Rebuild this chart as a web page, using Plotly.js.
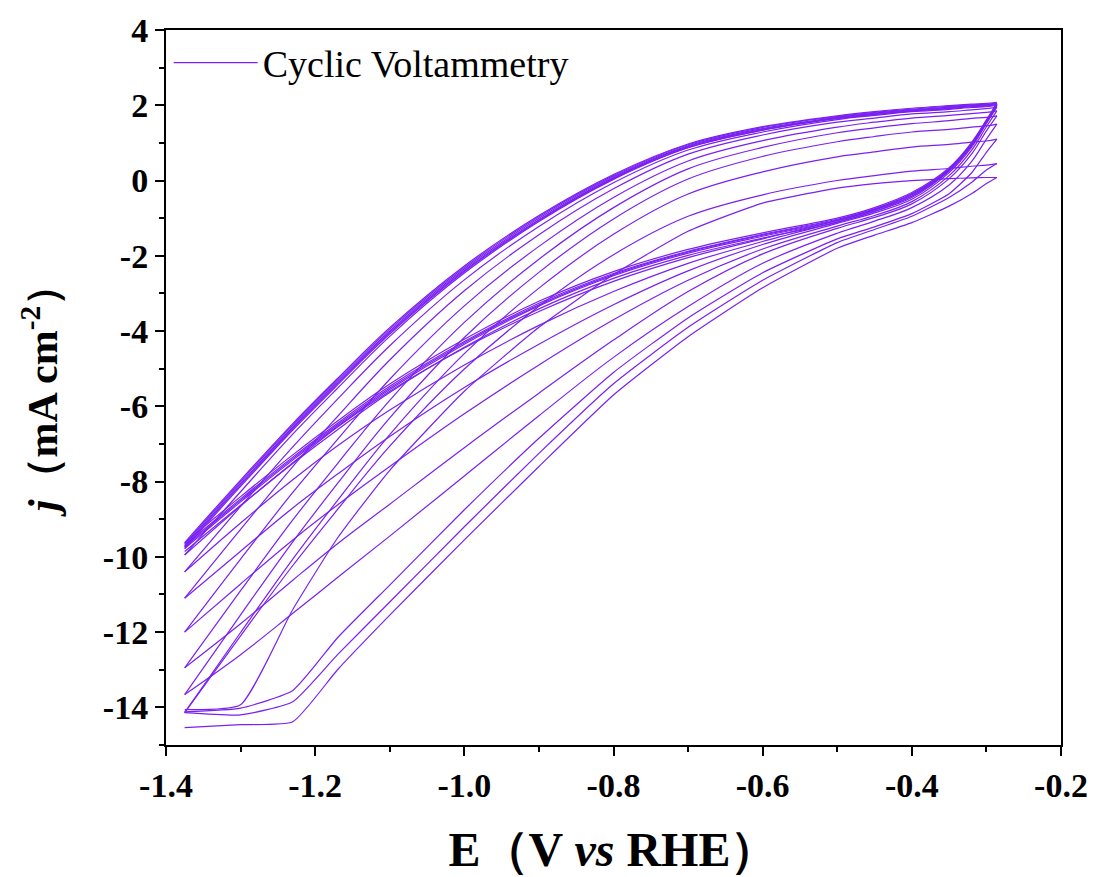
<!DOCTYPE html>
<html>
<head>
<meta charset="utf-8">
<script src="https://cdn.plot.ly/plotly-3.0.1.min.js"></script>
<style>html,body{margin:0;padding:0;background:#fff;}#chart{width:1096px;height:877px;}</style>
</head>
<body>
<div id="chart"></div>
<script>
// Potential grid (V vs RHE) shared by every branch
const E = [-0.286,-0.30,-0.32,-0.35,-0.40,-0.45,-0.50,-0.60,-0.70,-0.80,-0.90,-1.00,-1.10,-1.17,-1.23,-1.30,-1.375];

// Cathodic (negative-going) branches, current density j (mA cm^-2)
const LA = [0.08,-0.08,-0.35,-0.68,-1.12,-1.45,-1.80,-2.85,-4.15,-5.70,-7.60,-9.55,-11.55,-13.00,-14.38,-14.46,-14.54];
const LB = [0.45,0.28,-0.05,-0.45,-0.95,-1.30,-1.65,-2.65,-3.90,-5.40,-7.25,-9.20,-11.20,-12.60,-13.85,-14.20,-14.14];
const LC = [1.10,0.75,0.20,-0.35,-0.88,-1.23,-1.55,-2.45,-3.65,-5.10,-6.85,-8.75,-10.75,-12.15,-13.55,-14.02,-14.12];
const LD = [1.50,1.10,0.50,-0.12,-0.72,-1.08,-1.40,-2.20,-3.35,-4.70,-6.25,-7.85,-9.45,-10.55,-11.50,-12.60,-13.66];
const LE = [1.72,1.32,0.70,0.05,-0.62,-0.98,-1.27,-1.95,-2.95,-4.24,-5.65,-7.10,-8.60,-9.65,-10.62,-11.78,-12.95];
const LF = [1.85,1.43,0.80,0.13,-0.56,-0.93,-1.21,-1.82,-2.65,-3.70,-4.90,-6.20,-7.60,-8.62,-9.55,-10.72,-12.00];
const LG = [1.95,1.52,0.88,0.21,-0.50,-0.86,-1.14,-1.70,-2.40,-3.30,-4.35,-5.50,-6.80,-7.80,-8.70,-9.85,-11.10];
const LH = [2.00,1.56,0.94,0.26,-0.45,-0.82,-1.10,-1.62,-2.20,-2.95,-3.85,-4.90,-6.10,-7.05,-7.95,-9.10,-10.40];
const LI = [2.02,1.58,0.96,0.29,-0.41,-0.78,-1.06,-1.55,-2.05,-2.68,-3.48,-4.45,-5.60,-6.55,-7.50,-8.65,-9.95];
const LK1 = [2.00,1.55,0.95,0.28,-0.38,-0.78,-1.07,-1.48,-1.93,-2.53,-3.33,-4.35,-5.55,-6.53,-7.43,-8.54,-9.78];
const LK2 = [2.03,1.58,0.98,0.31,-0.35,-0.75,-1.03,-1.43,-1.88,-2.47,-3.26,-4.28,-5.47,-6.45,-7.35,-8.46,-9.70];
const LK3 = [2.06,1.61,1.01,0.34,-0.32,-0.72,-1.00,-1.39,-1.83,-2.42,-3.21,-4.22,-5.41,-6.39,-7.29,-8.40,-9.63];
const LK4 = [1.98,1.53,0.92,0.25,-0.42,-0.82,-1.11,-1.53,-1.99,-2.60,-3.41,-4.43,-5.63,-6.62,-7.52,-8.63,-9.86];
const LK5 = [2.04,1.59,0.97,0.30,-0.36,-0.76,-1.05,-1.45,-1.90,-2.50,-3.30,-4.31,-5.51,-6.49,-7.39,-8.50,-9.74];

// Anodic (positive-going) branches
const UA = [0.08,0.08,0.07,0.05,0.00,-0.08,-0.20,-0.60,-1.35,-2.50,-3.90,-5.60,-7.70,-9.50,-11.40,-13.93,-14.06];
const UB = [0.45,0.41,0.38,0.32,0.25,0.13,0.00,-0.38,-0.95,-1.97,-3.34,-5.01,-7.06,-8.74,-10.23,-12.10,-14.14];
const UC = [1.10,1.05,1.02,0.96,0.89,0.76,0.63,0.23,-0.36,-1.43,-2.86,-4.60,-6.75,-8.50,-10.06,-12.01,-14.14];
const UD = [1.50,1.45,1.42,1.36,1.29,1.17,1.03,0.64,0.04,-1.02,-2.44,-4.17,-6.31,-8.05,-9.60,-11.54,-13.66];
const UE = [1.72,1.68,1.65,1.59,1.51,1.40,1.27,0.88,0.31,-0.72,-2.09,-3.77,-5.84,-7.52,-9.02,-10.90,-12.95];
const UF = [1.85,1.81,1.78,1.73,1.66,1.55,1.42,1.06,0.52,-0.45,-1.75,-3.33,-5.28,-6.88,-8.29,-10.06,-12.00];
const UG = [1.95,1.91,1.88,1.83,1.77,1.66,1.55,1.21,0.70,-0.22,-1.44,-2.93,-4.77,-6.27,-7.60,-9.27,-11.10];
const UH = [2.00,1.96,1.94,1.89,1.83,1.73,1.62,1.29,0.81,-0.06,-1.22,-2.64,-4.39,-5.81,-7.08,-8.66,-10.40];
const UI = [2.02,1.98,1.96,1.91,1.85,1.76,1.65,1.34,0.87,0.03,-1.09,-2.46,-4.14,-5.52,-6.74,-8.27,-9.95];
const UK1 = [2.05,2.02,1.99,1.95,1.88,1.79,1.68,1.38,0.92,0.10,-1.00,-2.35,-4.00,-5.35,-6.55,-8.05,-9.70];
const UK2 = [2.08,2.05,2.03,1.99,1.92,1.83,1.72,1.43,0.97,0.16,-0.93,-2.27,-3.91,-5.26,-6.46,-7.96,-9.62];
const UK3 = [2.02,1.99,1.96,1.92,1.85,1.76,1.65,1.34,0.88,0.05,-1.06,-2.42,-4.08,-5.43,-6.63,-8.13,-9.78];
const UK4 = [2.06,2.03,2.01,1.97,1.90,1.81,1.70,1.41,0.95,0.13,-0.96,-2.31,-3.95,-5.30,-6.50,-8.00,-9.66];
const UK5 = [2.04,2.01,1.98,1.94,1.86,1.77,1.66,1.36,0.90,0.07,-1.04,-2.39,-4.04,-5.39,-6.59,-8.09,-9.74];

const branches = [LA,LB,LC,LD,LE,LF,LG,LH,LI,LK1,LK2,LK3,LK4,LK5,
                  UA,UB,UC,UD,UE,UF,UG,UH,UI,UK1,UK2,UK3,UK4,UK5];
const limited = [LA, LB, LC, UA];

// Axis tick labels
const xTicks = [-1.4,-1.2,-1.0,-0.8,-0.6,-0.4,-0.2];
const xTickText = ['-1.4','-1.2','-1.0','-0.8','-0.6','-0.4','-0.2'];
const yTicks = [4,2,0,-2,-4,-6,-8,-10,-12,-14];
const yTickText = ['4','2','0','-2','-4','-6','-8','-10','-12','-14'];

const COLOR = 'rgb(122,32,240)';
const traces = branches.map((j, i) => ({
  x: E, y: j, type: 'scatter', mode: 'lines',
  name: 'Cyclic Voltammetry', legendgroup: 'cv', showlegend: i === 0,
  line: {color: COLOR, width: 1.2, shape: 'spline', smoothing: limited.includes(j) ? 0.5 : 1}
}));

const SERIF = 'Liberation Serif, Times New Roman, serif';
const layout = {
  width: 1096, height: 877,
  margin: {l: 166, r: 35, t: 30, b: 132},
  paper_bgcolor: '#fff', plot_bgcolor: '#fff',
  showlegend: true,
  legend: {x: 0.003, y: 0.998, xanchor: 'left', yanchor: 'top', bgcolor: 'rgba(0,0,0,0)',
           itemwidth: 84, font: {family: SERIF, size: 38, color: '#000'}},
  xaxis: {
    range: [-1.4, -0.2], tickvals: xTicks, ticktext: xTickText,
    ticks: 'outside', ticklen: 9, tickwidth: 2, tickcolor: '#000',
    minor: {tickvals: [-1.3,-1.1,-0.9,-0.7,-0.5,-0.3], ticks: 'outside', ticklen: 5, tickwidth: 2, tickcolor: '#000'},
    showline: true, linewidth: 2, linecolor: '#000', mirror: true,
    showgrid: false, zeroline: false,
    tickfont: {family: SERIF, size: 34, color: '#000', weight: 700},
    title: {text: 'E（V <i>vs</i> RHE）', standoff: 30,
            font: {family: SERIF, size: 48, color: '#000', weight: 700}}
  },
  yaxis: {
    range: [-15, 4], tickvals: yTicks, ticktext: yTickText,
    ticks: 'outside', ticklen: 9, tickwidth: 2, tickcolor: '#000',
    minor: {tickvals: [3,1,-1,-3,-5,-7,-9,-11,-13,-15], ticks: 'outside', ticklen: 5, tickwidth: 2, tickcolor: '#000'},
    showline: true, linewidth: 2, linecolor: '#000', mirror: true,
    showgrid: false, zeroline: false,
    tickfont: {family: SERIF, size: 34, color: '#000', weight: 700},
    title: {text: '<i>j</i>（mA cm<sup>-2</sup>）', standoff: 32,
            font: {family: SERIF, size: 42, color: '#000', weight: 700}}
  }
};

Plotly.newPlot('chart', traces, layout, {displayModeBar: false, staticPlot: true});
</script>
</body>
</html>
